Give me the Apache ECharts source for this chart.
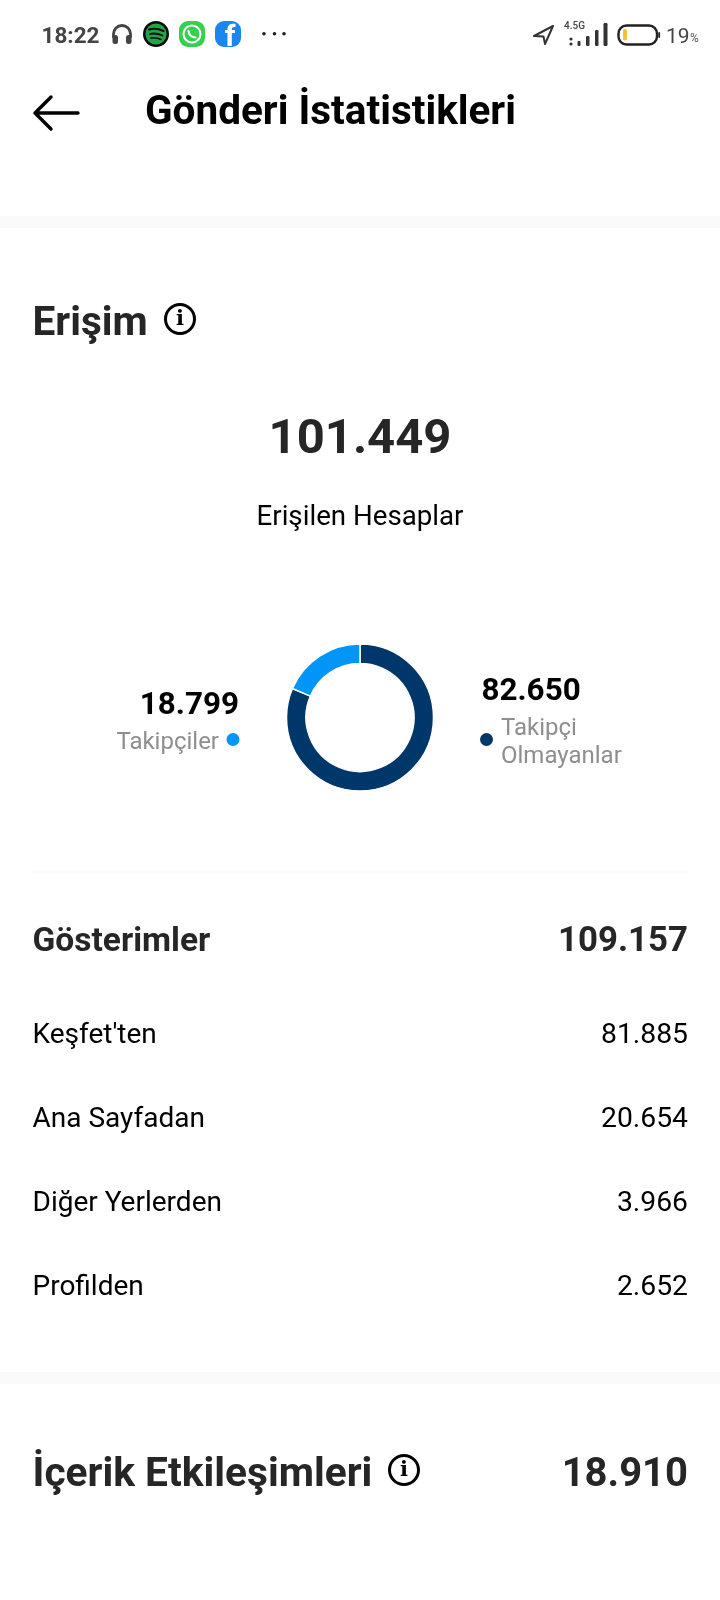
<!DOCTYPE html>
<html><head><meta charset="utf-8">
<style>html,body{margin:0;padding:0;background:#fff}#c{width:720px;height:1600px}</style>
<script src="https://cdn.jsdelivr.net/npm/echarts@6/dist/echarts.min.js"></script>
</head><body><div id="c"></div>
<script>
const pageTitle = "Gönderi İstatistikleri";
const sectionTitle = "Erişim";
const reachTotal = "101.449";
const reachCaption = "Erişilen Hesaplar";
const sliceNames = ["Takipçi Olmayanlar", "Takipçiler"];
const sliceValues = [82650, 18799];
const sliceLabels = ["82.650", "18.799"];
const sliceColors = ["#00376b", "#0095f6"];
const impressionsTitle = "Gösterimler";
const impressionsTotal = "109.157";
const rowNames = ["Keşfet'ten", "Ana Sayfadan", "Diğer Yerlerden", "Profilden"];
const rowValues = ["81.885", "20.654", "3.966", "2.652"];
const interactionsTitle = "İçerik Etkileşimleri";
const interactionsTotal = "18.910";

const F = "Roboto";
const txt = (x, y, s, size, weight, fill, align) => ({type:'text', x, y, silent:true, style:{
  text:s, font:`${weight} ${size}px ${F}`, fill, align:align||'left', verticalAlign:'middle'}});
const rect = (x,y,w,h,fill,r) => ({type:'rect', silent:true, shape:{x,y,width:w,height:h,r:r||0}, style:{fill}});
const circ = (cx,cy,r,fill,stroke,lw) => ({type:'circle', silent:true, shape:{cx,cy,r}, style:{fill:fill||'none',stroke:stroke||null,lineWidth:lw||0}});
let pathCount = 0;
const path = (d,stroke,lw,fill) => {
  const name = 'icon' + (pathCount++);
  echarts.graphic.registerShape(name, echarts.graphic.extendPath(d, {}));
  return {type:name, silent:true, style:{fill:fill||'none',stroke:stroke||null,lineWidth:lw||0,lineCap:'round',lineJoin:'round'}};
};
const info = (cx,cy) => [circ(cx,cy,14.5,'#fff','#000',3),
  {type:'text',x:cx,y:cy+0.5,silent:true,style:{text:'i',font:'bold 21px "DejaVu Serif"',fill:'#000',align:'center',verticalAlign:'middle'}}];

const g = [
  // status bar
  txt(41.5,37,"18:22",22.5,700,'#444'),
  path("M113.5 37 V34 A8.5 8.5 0 0 1 130.5 34 V37",'#444',2.8),
  rect(112.5,35,5.5,9,'#444',2.5), rect(126,35,5.5,9,'#444',2.5),
  circ(156,34,13,'#0b0b0b'), circ(156,34,10.5,'#1fa64b'),
  path("M149 29.5 Q156 27.5 163.5 31",'#0b0b0b',2), path("M150 34 Q156 32.5 162.5 35.5",'#0b0b0b',1.8), path("M151 38 Q156 37 161 39.5",'#0b0b0b',1.6),
  rect(179,21,26,26,'#36cf50',9),
  circ(192,34,8.5,'none','#fff',2), path("M188.5 31 Q189 37 195.5 37.5",'#fff',2.2),
  rect(215,21,26,26,'#1b86ee',9),
  {type:'text',x:230,y:38,silent:true,style:{text:'f',font:'bold 30px '+F,fill:'#fff',align:'center',verticalAlign:'middle'}},
  circ(264,33.7,1.8,'#222'),circ(274.5,33.7,1.8,'#222'),circ(284,33.7,1.8,'#222'),
  path("M553 26 L534 36 L543.5 36.5 L545 44 Z",'#333',2),
  txt(564,26,"4.5G",10,500,'#444'),
  circ(571,39,1.6,'#333'),circ(571,44,1.6,'#333'),
  rect(577.5,41,3,5,'#333',1), rect(586,36,3.5,10,'#333',1.2), rect(595,30,3.5,16,'#333',1.2), rect(603.5,23,4,23,'#333',1.2),
  {type:'rect',silent:true,shape:{x:618.5,y:25.5,width:38.5,height:19,r:8},style:{fill:'#fff',stroke:'#222',lineWidth:2.4}},
  rect(658.3,32,1.8,6,'#222',1),
  rect(623,29,4,11.5,'#fbc02d',2),
  txt(666,38,"19",21,400,'#444'), txt(690,39,"%",12,400,'#555'),
  // header
  path("M51 97 L35 113 L51 129 M35 113 H78",'#000',3.4),
  txt(145,114,pageTitle,40.5,700,'#000'),
  rect(0,216,720,12,'#fafafa'),
  // reach
  txt(32.5,325,sectionTitle,40.6,700,'#262626'),
  ...info(180,319),
  txt(360,440.5,reachTotal,49,700,'#262626','center'),
  txt(360,518.5,reachCaption,27.7,400,'#000','center'),
  txt(239,706.5,sliceLabels[1],31.4,700,'#000','right'),
  txt(219,743,sliceNames[1],24,400,'#8e8e8e','right'),
  circ(233,739.5,6.5,sliceColors[1]),
  txt(481.5,692,sliceLabels[0],31.4,700,'#000'),
  circ(486.5,739.5,6.5,sliceColors[0]),
  txt(501,729,"Takipçi",24,400,'#8e8e8e'),
  txt(501,757,"Olmayanlar",24,400,'#8e8e8e'),
  rect(32,871.5,657,1,'#f6f6f6'),
  // impressions
  txt(32.5,942.5,impressionsTitle,33.5,700,'#262626'),
  txt(688,942.5,impressionsTotal,34.8,700,'#262626','right'),
  ...rowNames.flatMap((n,i)=>{ const y=[1036,1120,1204,1288][i]; return [
    txt(32.5,y,n,28,400,'#000'), txt(688,y,rowValues[i],28.3,400,'#000','right')]; }),
  rect(0,1372,720,12,'#fafafa'),
  // interactions
  txt(32.5,1476,interactionsTitle,40.7,700,'#262626'),
  ...info(404,1470),
  txt(688,1476,interactionsTotal,40,700,'#262626','right')
];

const chart = echarts.init(document.getElementById('c'), null, {renderer:'canvas', width:720, height:1600});
chart.setOption({
  animation:false,
  backgroundColor:'#fff',
  graphic:{elements:g},
  series:[{
    type:'pie', center:[360,717.5], radius:[54,73.5], startAngle:90, clockwise:true,
    label:{show:false}, labelLine:{show:false}, silent:true,
    itemStyle:{borderColor:'#fff',borderWidth:1.5},
    data:sliceNames.map((name,i)=>({name,value:sliceValues[i],itemStyle:{color:sliceColors[i]}}))
  }]
});
</script></body></html>
